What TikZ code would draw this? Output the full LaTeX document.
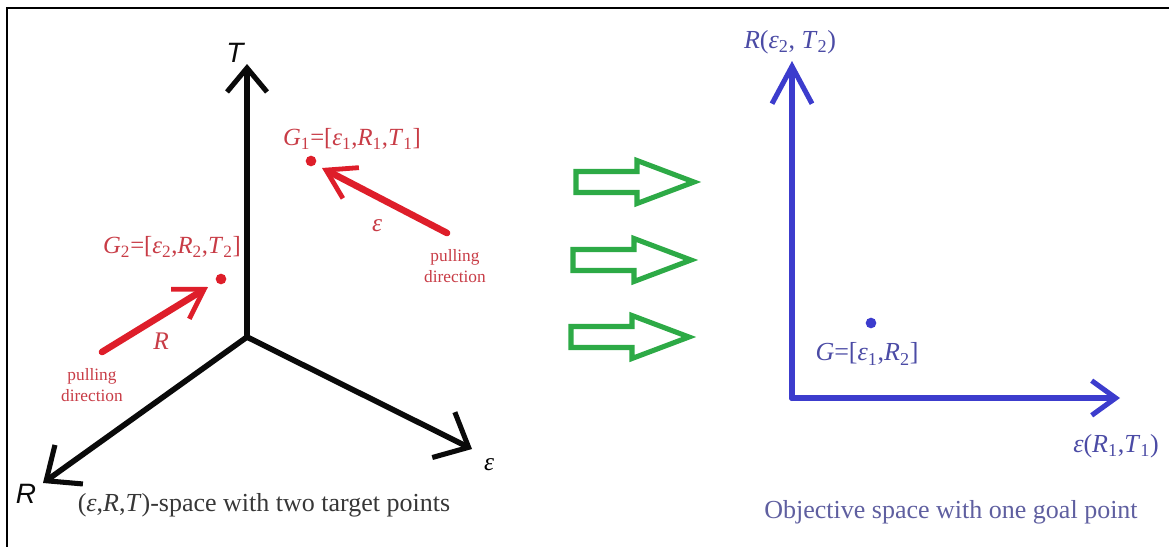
\documentclass[tikz,border=0pt]{standalone}
\usepackage{fontspec}
\setmainfont{Liberation Serif}
\newfontfamily\axisfont{Liberation Sans}
\usetikzlibrary{arrows.meta}
\definecolor{axblack}{RGB}{10,10,10}
\definecolor{pullred}{RGB}{222,30,42}
\definecolor{labred}{RGB}{200,60,70}
\definecolor{hollowgreen}{RGB}{45,170,70}
\definecolor{objblue}{RGB}{60,60,205}
\definecolor{goalblue}{RGB}{75,75,165}
\definecolor{capgray}{RGB}{55,55,55}
\definecolor{capblue}{RGB}{95,95,160}
\tikzset{
  axisline/.style={draw=axblack, line width=4.2pt, line cap=round, line join=round},
  blueline/.style={draw=objblue, line width=4.5pt, line cap=round, line join=round},
  redarrow/.style={draw=pullred, line width=5pt, line cap=round, line join=round},
  axislabel/.style={font=\axisfont\itshape\fontsize{21}{24}\selectfont, text=axblack, inner sep=0pt},
  redlabel/.style={font=\fontsize{18.5}{22}\selectfont, text=labred, inner sep=0pt},
  pulltext/.style={font=\fontsize{13}{16}\selectfont, text=labred, align=center, inner sep=0pt},
  bluelabel/.style={font=\fontsize{19.5}{23}\selectfont, text=goalblue, inner sep=0pt},
  captext/.style={font=\fontsize{19.5}{23}\selectfont, inner sep=0pt},
  dotred/.style={circle, fill=pullred, inner sep=0pt, minimum size=8pt},
  dotblue/.style={circle, fill=objblue, inner sep=0pt, minimum size=8pt},
  hollowarrow/.pic={
    \draw[draw=hollowgreen, line width=3.8pt, line join=miter]
      (0,-10.5) -- (61,-10.5) -- (61,-21.5) -- (118,0) -- (61,21.5) -- (61,10.5) -- (0,10.5) -- cycle;
  }
}
\newcommand{\lsub}[1]{\textsubscript{#1}}
\begin{document}
\begin{tikzpicture}[x=0.75pt, y=-0.75pt]
\useasboundingbox (0,0) rectangle (1169,546);
% frame
\draw[line width=1pt, draw=black] (7,560) -- (7,8) -- (1180,8);

% 3D axes
\coordinate (O) at (247,337);
\coordinate (Ttip) at (247,64);
\coordinate (Rtip) at (43,483);
\coordinate (Etip) at (472,449);
\draw[axisline, -{Straight Barb[length=18pt, width=30pt, line width=3.8pt]}] (O) -- (Ttip);
\draw[axisline, -{Straight Barb[length=21pt, width=36pt, line width=3.8pt]}] (O) -- (Rtip);
\draw[axisline, -{Straight Barb[length=21pt, width=38pt, line width=3.8pt]}] (O) -- (Etip);
\node[axislabel] (Tlab) at (235,53) {T};
\node[axislabel] (Rlab) at (26,494) {R};
\node[font=\itshape\fontsize{19}{22}\selectfont, inner sep=0pt] (Elab) at (489,465) {ε};
\node[captext, text=capgray] (cap1) at (264,505) {(\textit{ε},\textit{R},\textit{T})-space with two target points};

% target points
\node[dotred] (G1) at (311,161) {};
\node[redlabel] (G1lab) at (352,139) {\textit{G}\lsub{1}=[\textit{ε}\lsub{1},\textit{R}\lsub{1},\textit{T}\lsub{1}]};
\coordinate (G1tail) at (447,233);
\coordinate (G1tip) at (322,168);
\draw[redarrow, -{Straight Barb[length=21pt, width=26pt, line width=3.6pt]}] (G1tail) -- (G1tip);
\node[redlabel, font=\itshape\fontsize{19}{22}\selectfont] (epsred) at (377,226) {ε};
\node[pulltext] (pull1) at (455,266) {pulling\\direction};

\node[dotred] (G2) at (221,279) {};
\node[redlabel] (G2lab) at (172,247) {\textit{G}\lsub{2}=[\textit{ε}\lsub{2},\textit{R}\lsub{2},\textit{T}\lsub{2}]};
\coordinate (G2tail) at (102,352);
\coordinate (G2tip) at (208,287);
\draw[redarrow, -{Straight Barb[length=21pt, width=26pt, line width=3.6pt]}] (G2tail) -- (G2tip);
\node[redlabel, font=\itshape\fontsize{19}{22}\selectfont] (Rred) at (161,341) {R};
\node[pulltext] (pull2) at (92,385) {pulling\\direction};

% green hollow arrows
\pic at (576,182) {hollowarrow};
\pic at (573,260) {hollowarrow};
\pic at (571,337) {hollowarrow};

% objective space
\coordinate (B) at (792,398);
\coordinate (Bup) at (792,61);
\coordinate (Bright) at (1120,398);
\draw[blueline, -{Straight Barb[length=28pt, width=30pt, line width=3.8pt]}] (B) -- (Bup);
\draw[blueline, -{Straight Barb[length=18pt, width=26pt, line width=3.8pt]}] (B) -- (Bright);
\node[bluelabel] (Rax) at (790,42) {\textit{R}(\textit{ε}\lsub{2}, \textit{T}\lsub{2})};
\node[bluelabel] (Eax) at (1116,446) {\textit{ε}(\textit{R}\lsub{1},\textit{T}\lsub{1})};
\node[dotblue] (G) at (871,323) {};
\node[bluelabel] (Glab) at (867,354) {\textit{G}=[\textit{ε}\lsub{1},\textit{R}\lsub{2}]};
\node[captext, text=capblue] (cap2) at (951,512) {Objective space with one goal point};
\end{tikzpicture}
\end{document}
